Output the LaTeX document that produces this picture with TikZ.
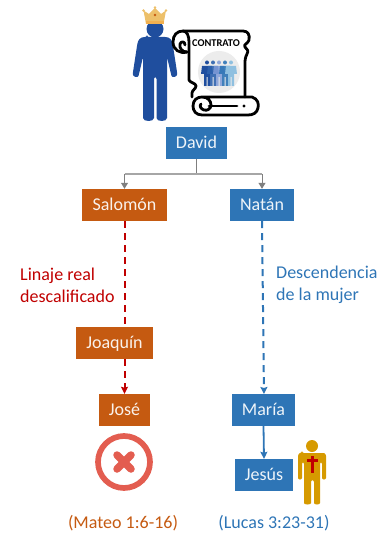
\documentclass[tikz,border=0pt]{standalone}
\usepackage{fontspec}
\setmainfont{Carlito}
\usetikzlibrary{arrows.meta}
\definecolor{bluebox}{HTML}{2E75B6}
\definecolor{orangebox}{HTML}{C55A11}
\definecolor{redline}{HTML}{C00000}
\definecolor{grayline}{HTML}{7F7F7F}
\definecolor{crossred}{HTML}{E35D50}
\definecolor{gold}{HTML}{D69A00}
\definecolor{navy}{HTML}{1F4E9E}
\definecolor{crownc}{HTML}{EDC06A}
\tikzset{
  bluenode/.style={fill=bluebox,text=white!92!bluebox,font=\fontsize{18}{20}\selectfont,inner sep=0pt,anchor=center,text height=11.5pt,text depth=0pt},
  orangenode/.style={fill=orangebox,text=white!92!orangebox,font=\fontsize{18}{20}\selectfont,inner sep=0pt,anchor=center,text height=11.5pt,text depth=0pt},
  lbl/.style={font=\fontsize{18}{22}\selectfont,align=left,inner sep=0pt},
  scrollline/.style={draw=black,line width=2.8pt,line cap=round,line join=round},
  grayarrow/.style={draw=grayline,line width=1pt,-{Triangle[length=6pt,width=7pt]}},
  redarrow/.style={draw=redline,line width=2pt,dash pattern=on 7pt off 5pt,-{Stealth[length=7pt,width=7pt,inset=1pt]}},
  bluearrow/.style={draw=bluebox,line width=2pt,dash pattern=on 7pt off 5pt,-{Stealth[length=7pt,width=7pt,inset=1pt]}},
  solidblue/.style={draw=bluebox,line width=1.8pt,-{Stealth[length=7pt,width=7pt,inset=1pt]}},
}
\begin{document}
\begin{tikzpicture}[x=1pt,y=-1pt]
\useasboundingbox (0,0) rectangle (383,534);
% King figure
\fill[navy] (155,29) circle (8.5);
\fill[navy,rounded corners=2pt] (147,37) -- (163,37) .. controls (170,37) and (172,40) .. (173,46)
  -- (177,72) .. controls (177.5,77) and (172,78) .. (171,74) -- (167,57) -- (167,116)
  .. controls (167,122) and (156.5,122) .. (156.5,116) -- (156.5,77) -- (154,77) -- (154,116)
  .. controls (154,122) and (143,122) .. (143,116) -- (143,57) -- (139,74)
  .. controls (138,78) and (132.5,77) .. (133,72) -- (137,46) .. controls (138,40) and (140,37) .. (147,37) -- cycle;
% Crown
\fill[crownc] (143.5,10.5) -- (149,14) -- (155,8) -- (161,14) -- (166,10.5) -- (163.5,24) -- (146,24) -- cycle;
\fill[crownc!75!orange] (146,21) rectangle (163.5,24);
\fill[crownc] (143.5,10.5) circle (1.4) (155,7.5) circle (1.4) (166,10.5) circle (1.4);
\fill[orangebox] (155,15) circle (1.3);
% Scroll
\fill[white] (178,31) -- (245,31) -- (250,45) -- (245,97) -- (193,97) -- (189,60) -- cycle;
\path[scrollline]
  (187,52) .. controls (180,54) and (173,50) .. (173,42)
  .. controls (173,35) and (177,31) .. (183,31)
  -- (243,31) .. controls (248,31) and (250,35) .. (249,40)
  .. controls (248,44) and (243,44) .. (245,47)
  .. controls (247,50) and (249,50) .. (247,54)
  .. controls (245,58) and (245,60) .. (245,64) -- (245,97);
\path[scrollline] (183,31) .. controls (187,31) and (189,36) .. (189,42) -- (189,80)
  .. controls (190,83) and (196,83) .. (196,86) .. controls (196,89) and (192,90) .. (192,93) -- (192,97);
\path[scrollline] (187,52) .. controls (182,52) and (179,48) .. (180,44) .. controls (181,41) and (185,41) .. (185,45);
\path[scrollline] (202,97) -- (252,97) .. controls (258,99) and (259,104) .. (258,108)
  .. controls (257,113) and (253,115) .. (248,115) -- (202,115)
  .. controls (196,115) and (193,111) .. (193,106)
  .. controls (193,100) and (197,97) .. (202,97)
  .. controls (208,97) and (211,101) .. (211,105)
  .. controls (211,109) and (207,111) .. (204,110)
  .. controls (201,109) and (199,106) .. (201,104);
\path[scrollline] (209,106) -- (237,106);
\fill[black] (244,106) circle (1.7);
\node[inner sep=0pt,font=\bfseries\fontsize{10.4}{11}\selectfont] (contrato) at (216,43) {CONTRATO};
% People icon
\fill[gray!15] (219,72) circle (21);
\foreach \xx/\cc/\oo in {207/1F4E9E/1,213/2E63AE/0.9,219/7F9BD8/0.85,225/2E75B6/0.9,231/8FC0E0/1}{
  \definecolor{pp}{HTML}{\cc}
  \fill[pp,opacity=\oo] (\xx,62.5) circle (2);
  \fill[pp,opacity=\oo] (\xx-5,66) -- (\xx+5,66) -- (\xx+6,74) -- (\xx+3,74) -- (\xx+3,86) -- (\xx+0.5,86)
     -- (\xx+0.5,77) -- (\xx-0.5,77) -- (\xx-0.5,86) -- (\xx-3,86) -- (\xx-3,74) -- (\xx-6,74) -- cycle;
}
% Boxes
\node[bluenode,minimum width=61pt,minimum height=32pt] (david) at (196.5,143) {David};
\node[orangenode,minimum width=85pt,minimum height=32pt] (salomon) at (124.5,205) {Salomón};
\node[bluenode,minimum width=64pt,minimum height=32pt] (natan) at (262,205) {Natán};
\node[orangenode,minimum width=77pt,minimum height=32pt] (joaquin) at (114.5,343) {Joaquín};
\node[orangenode,minimum width=51pt,minimum height=32pt] (jose) at (124.5,410) {José};
\node[bluenode,minimum width=63pt,minimum height=32pt] (maria) at (263.5,410) {María};
\node[bluenode,minimum width=58pt,minimum height=32pt] (jesus) at (264,475) {Jesús};
% Connectors
\coordinate (fork) at (196.5,174);
\draw[draw=grayline,line width=1pt] (david.south) -- (fork);
\draw[draw=gray!70,line width=1.2pt] (124.5,174) -- (262,174);
\draw[grayarrow] (124.5,174) -- (salomon.north);
\draw[grayarrow] (262,174) -- (natan.north);
\draw[draw=redline,line width=2pt,dash pattern=on 7pt off 5pt] (salomon.south) -- (124.5,327);
\draw[redarrow] (124.5,359) -- (jose.north);
\draw[bluearrow] (natan.south) -- (264,394);
\draw[solidblue] (maria.south) -- (jesus.north);
% Labels
\node[lbl,text=redline,anchor=west] (linaje) at (20,285) {Linaje real\\descalificado};
\node[lbl,text=bluebox,anchor=west] (descend) at (276,285) {Descendencia\\de la mujer};
\node[lbl,text=orangebox,anchor=base] (mateo) at (123,528) {(Mateo 1:6-16)};
\node[lbl,text=bluebox,anchor=base] (lucas) at (274,528) {(Lucas 3:23-31)};
% Cross circle
\draw[crossred,line width=5.7pt] (124,462) circle (26);
\draw[crossred,line width=7.5pt,line cap=round] (117,455) -- (131,469) (131,455) -- (117,469);
% Gold figure
\fill[gold] (312,446) circle (6);
\fill[gold,rounded corners=2pt] (302,453) -- (322,453) .. controls (325,453) and (326,455) .. (326,458)
  -- (326,476) .. controls (326,480) and (322,480) .. (322,476) -- (322,462) -- (320,462) -- (320,501)
  .. controls (320,505) and (314,505) .. (314,501) -- (314,480) -- (311,480) -- (311,501)
  .. controls (311,505) and (304,505) .. (304,501) -- (304,462) -- (302,462) -- (302,476)
  .. controls (302,480) and (298,480) .. (298,476) -- (298,458) .. controls (298,455) and (299,453) .. (302,453) -- cycle;
\fill[redline] (310.5,455.5) rectangle (313.5,473);
\fill[redline] (306.5,459) rectangle (317.5,462);
\end{tikzpicture}
\end{document}
